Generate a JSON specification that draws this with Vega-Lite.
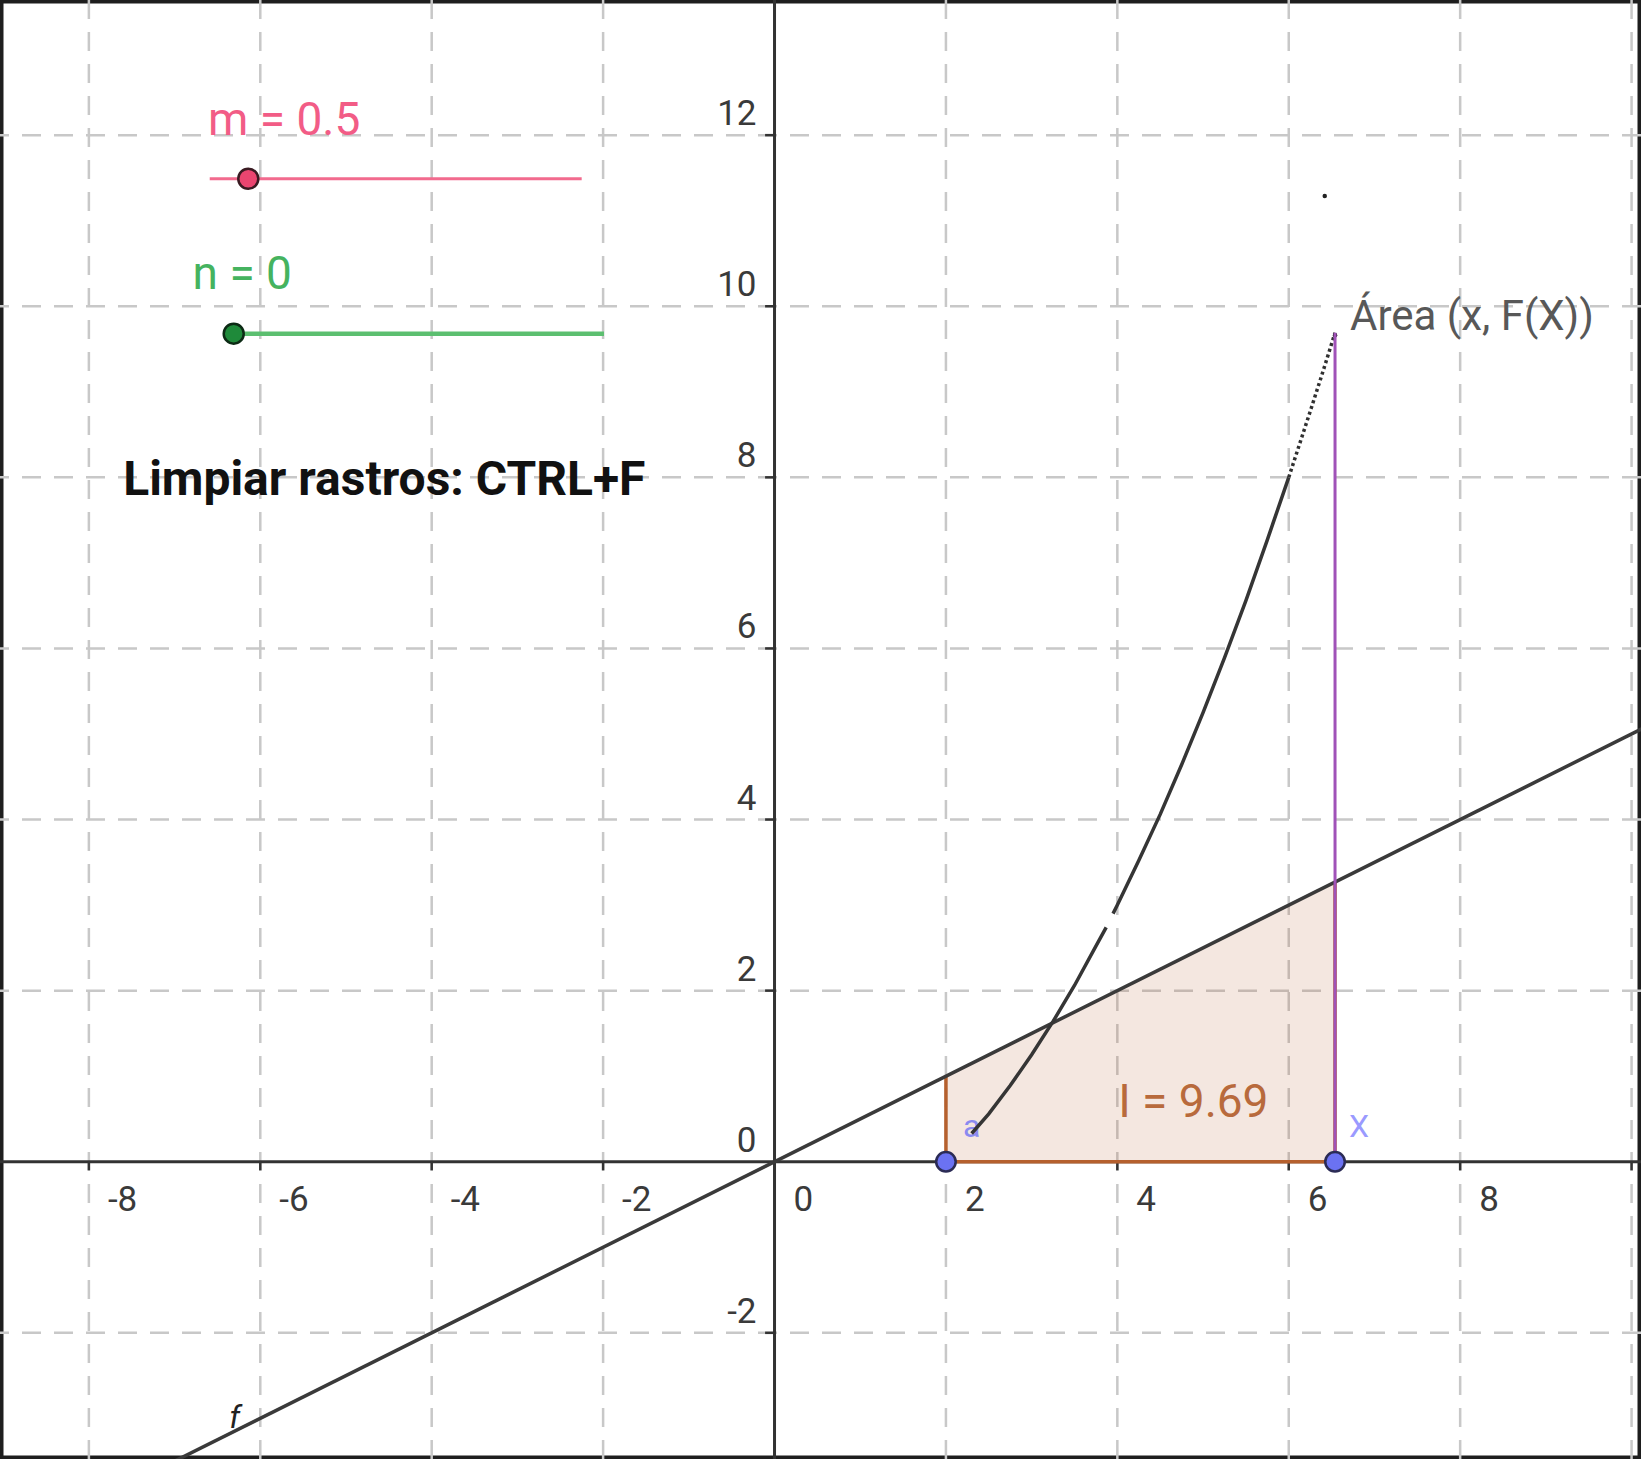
{
  "$schema": "https://vega.github.io/schema/vega-lite/v6.json",
  "width": 1641,
  "height": 1459,
  "autosize": {"type": "none"},
  "padding": 0,
  "background": "white",
  "config": {
    "view": {"stroke": "#1e1e1e", "strokeWidth": 7},
    "axis": {"disable": true},
    "text": {"font": "Roboto"}
  },
  "layer": [
    {
      "data": {"values": [{"v": -2}, {"v": 2}, {"v": 4}, {"v": 6}, {"v": 8}, {"v": 10}, {"v": 12}]},
      "mark": {"type": "rule", "color": "#c8c8c8", "strokeWidth": 2.5, "strokeDash": [19, 13]},
      "encoding": {
        "y": {"field": "v", "type": "quantitative", "scale": {"domain": [-3.475, 13.58], "nice": false, "zero": false}}
      }
    },
    {
      "data": {"values": [{"v": -8}, {"v": -6}, {"v": -4}, {"v": -2}, {"v": 2}, {"v": 4}, {"v": 6}, {"v": 8}, {"v": 10}]},
      "mark": {"type": "rule", "color": "#c8c8c8", "strokeWidth": 2.5, "strokeDash": [19, 13]},
      "encoding": {
        "x": {"field": "v", "type": "quantitative", "scale": {"domain": [-9.037, 10.11], "nice": false, "zero": false}}
      }
    },
    {
      "data": {"values": [{"v": 0}]},
      "mark": {"type": "rule", "color": "#333333", "strokeWidth": 3},
      "encoding": {"y": {"field": "v", "type": "quantitative"}}
    },
    {
      "data": {"values": [{"v": 0}]},
      "mark": {"type": "rule", "color": "#333333", "strokeWidth": 3},
      "encoding": {"x": {"field": "v", "type": "quantitative"}}
    },
    {
      "data": {"values": [{"v": -8}, {"v": -6}, {"v": -4}, {"v": -2}, {"v": 2}, {"v": 4}, {"v": 6}, {"v": 8}, {"v": 10}]},
      "mark": {"type": "rule", "color": "#333333", "strokeWidth": 2.5},
      "encoding": {
        "x": {"field": "v", "type": "quantitative"},
        "y": {"datum": 0},
        "y2": {"datum": -0.1}
      }
    },
    {
      "data": {"values": [{"v": -2}, {"v": 2}, {"v": 4}, {"v": 6}, {"v": 8}, {"v": 10}, {"v": 12}]},
      "mark": {"type": "rule", "color": "#333333", "strokeWidth": 2.5},
      "encoding": {
        "y": {"field": "v", "type": "quantitative"},
        "x": {"datum": 0},
        "x2": {"datum": -0.11}
      }
    },
    {
      "data": {"values": [{"v": -8}, {"v": -6}, {"v": -4}, {"v": -2}, {"v": 0}, {"v": 2}, {"v": 4}, {"v": 6}, {"v": 8}]},
      "mark": {"type": "text", "align": "left", "baseline": "middle", "dx": 19, "dy": 38, "fontSize": 35, "color": "#3a3a3a"},
      "encoding": {
        "x": {"field": "v", "type": "quantitative"},
        "y": {"datum": 0},
        "text": {"field": "v", "type": "nominal"}
      }
    },
    {
      "data": {"values": [{"v": -2}, {"v": 0}, {"v": 2}, {"v": 4}, {"v": 6}, {"v": 8}, {"v": 10}, {"v": 12}]},
      "mark": {"type": "text", "align": "right", "baseline": "middle", "dx": -18, "dy": -21, "fontSize": 35, "color": "#3a3a3a"},
      "encoding": {
        "y": {"field": "v", "type": "quantitative"},
        "x": {"datum": 0},
        "text": {"field": "v", "type": "nominal"}
      }
    },
    {
      "data": {"values": [{"x": 2, "y": 1}, {"x": 6.54, "y": 3.27}]},
      "mark": {"type": "area", "color": "#b5602e", "opacity": 0.15},
      "encoding": {
        "x": {"field": "x", "type": "quantitative"},
        "y": {"field": "y", "type": "quantitative"},
        "y2": {"datum": 0}
      }
    },
    {
      "data": {"values": [{"x": 2, "y": 1, "o": 1}, {"x": 2, "y": 0, "o": 2}, {"x": 6.54, "y": 0, "o": 3}, {"x": 6.54, "y": 3.27, "o": 4}]},
      "mark": {"type": "line", "color": "#b5602e", "strokeWidth": 3.5},
      "encoding": {
        "x": {"field": "x", "type": "quantitative"},
        "y": {"field": "y", "type": "quantitative"},
        "order": {"field": "o", "type": "quantitative"}
      }
    },
    {
      "data": {"values": [{"x": -9.5, "y": -4.75}, {"x": 10.5, "y": 5.25}]},
      "mark": {"type": "line", "color": "#3a3a3a", "strokeWidth": 3.5, "clip": true},
      "encoding": {
        "x": {"field": "x", "type": "quantitative"},
        "y": {"field": "y", "type": "quantitative"}
      }
    },
    {
      "data": {"values": [{"x": 2.3, "y": 0.41, "t": "a"}]},
      "mark": {"type": "text", "align": "center", "baseline": "middle", "fontSize": 32, "color": "#8a8af0"},
      "encoding": {
        "x": {"field": "x", "type": "quantitative"},
        "y": {"field": "y", "type": "quantitative"},
        "text": {"field": "t"}
      }
    },
    {
      "data": {"values": [
        {"x": 2.3, "y": 0.33, "s": 1}, {"x": 2.5, "y": 0.56, "s": 1}, {"x": 2.75, "y": 0.89, "s": 1},
        {"x": 3.0, "y": 1.25, "s": 1}, {"x": 3.25, "y": 1.64, "s": 1}, {"x": 3.5, "y": 2.06, "s": 1},
        {"x": 3.75, "y": 2.52, "s": 1}, {"x": 3.87, "y": 2.74, "s": 1},
        {"x": 3.95, "y": 2.9, "s": 2}, {"x": 4.0, "y": 3.0, "s": 2}, {"x": 4.25, "y": 3.52, "s": 2},
        {"x": 4.5, "y": 4.06, "s": 2}, {"x": 4.75, "y": 4.64, "s": 2}, {"x": 5.0, "y": 5.25, "s": 2},
        {"x": 5.25, "y": 5.89, "s": 2}, {"x": 5.5, "y": 6.56, "s": 2}, {"x": 5.75, "y": 7.27, "s": 2},
        {"x": 6.0, "y": 8.0, "s": 2}
      ]},
      "mark": {"type": "line", "color": "#353535", "strokeWidth": 3.5},
      "encoding": {
        "x": {"field": "x", "type": "quantitative"},
        "y": {"field": "y", "type": "quantitative"},
        "detail": {"field": "s", "type": "nominal"}
      }
    },
    {
      "data": {"values": [{"x": 6.0, "y": 8.0}, {"x": 6.25, "y": 8.77}, {"x": 6.4, "y": 9.24}, {"x": 6.54, "y": 9.69}]},
      "mark": {"type": "line", "color": "#303030", "strokeWidth": 3.5, "strokeDash": [3, 3]},
      "encoding": {
        "x": {"field": "x", "type": "quantitative"},
        "y": {"field": "y", "type": "quantitative"}
      }
    },
    {
      "data": {"values": [{"x": 6.42, "y": 11.29}, {"x": 6.54, "y": 9.66}]},
      "mark": {"type": "point", "filled": true, "color": "#222222", "size": 20, "opacity": 1},
      "encoding": {
        "x": {"field": "x", "type": "quantitative"},
        "y": {"field": "y", "type": "quantitative"}
      }
    },
    {
      "data": {"values": [{"x": 6.54, "y0": 0, "y1": 9.69}]},
      "mark": {"type": "rule", "color": "#a052b8", "strokeWidth": 3},
      "encoding": {
        "x": {"field": "x", "type": "quantitative"},
        "y": {"field": "y0", "type": "quantitative"},
        "y2": {"field": "y1"}
      }
    },
    {
      "data": {"values": [{"x0": -6.59, "x1": -2.25, "y": 11.49}]},
      "mark": {"type": "rule", "color": "#f26a8e", "strokeWidth": 3},
      "encoding": {
        "x": {"field": "x0", "type": "quantitative"},
        "x2": {"field": "x1"},
        "y": {"field": "y", "type": "quantitative"}
      }
    },
    {
      "data": {"values": [{"x0": -6.31, "x1": -1.99, "y": 9.68}]},
      "mark": {"type": "rule", "color": "#5cbf70", "strokeWidth": 4.5},
      "encoding": {
        "x": {"field": "x0", "type": "quantitative"},
        "x2": {"field": "x1"},
        "y": {"field": "y", "type": "quantitative"}
      }
    },
    {
      "data": {"values": [{"x": -6.14, "y": 11.49}]},
      "mark": {"type": "point", "filled": true, "fill": "#ea4570", "stroke": "#3a1a22", "strokeWidth": 2.5, "size": 400, "opacity": 1, "shape": "circle"},
      "encoding": {
        "x": {"field": "x", "type": "quantitative"},
        "y": {"field": "y", "type": "quantitative"}
      }
    },
    {
      "data": {"values": [{"x": -6.31, "y": 9.68}]},
      "mark": {"type": "point", "filled": true, "fill": "#1f8a3a", "stroke": "#0c2a14", "strokeWidth": 2.5, "size": 400, "opacity": 1, "shape": "circle"},
      "encoding": {
        "x": {"field": "x", "type": "quantitative"},
        "y": {"field": "y", "type": "quantitative"}
      }
    },
    {
      "data": {"values": [{"x": 2, "y": 0}, {"x": 6.54, "y": 0}]},
      "mark": {"type": "point", "filled": true, "fill": "#6b72f2", "stroke": "#2b2b55", "strokeWidth": 2.5, "size": 380, "opacity": 1, "shape": "circle"},
      "encoding": {
        "x": {"field": "x", "type": "quantitative"},
        "y": {"field": "y", "type": "quantitative"}
      }
    },
    {
      "data": {"values": [{"x": -6.61, "y": 12.17, "t": "m = 0.5"}]},
      "mark": {"type": "text", "align": "left", "baseline": "middle", "fontSize": 46, "color": "#f25c86"},
      "encoding": {
        "x": {"field": "x", "type": "quantitative"},
        "y": {"field": "y", "type": "quantitative"},
        "text": {"field": "t"}
      }
    },
    {
      "data": {"values": [{"x": -6.79, "y": 10.36, "t": "n = 0"}]},
      "mark": {"type": "text", "align": "left", "baseline": "middle", "fontSize": 46, "color": "#45b35f"},
      "encoding": {
        "x": {"field": "x", "type": "quantitative"},
        "y": {"field": "y", "type": "quantitative"},
        "text": {"field": "t"}
      }
    },
    {
      "data": {"values": [{"x": -7.6, "y": 7.96, "t": "Limpiar rastros: CTRL+F"}]},
      "mark": {"type": "text", "align": "left", "baseline": "middle", "fontSize": 48, "fontWeight": "bold", "color": "#111111"},
      "encoding": {
        "x": {"field": "x", "type": "quantitative"},
        "y": {"field": "y", "type": "quantitative"},
        "text": {"field": "t"}
      }
    },
    {
      "data": {"values": [{"x": 6.715, "y": 9.88, "t": "Área (x, F(X))"}]},
      "mark": {"type": "text", "align": "left", "baseline": "middle", "fontSize": 42, "color": "#585858"},
      "encoding": {
        "x": {"field": "x", "type": "quantitative"},
        "y": {"field": "y", "type": "quantitative"},
        "text": {"field": "t"}
      }
    },
    {
      "data": {"values": [{"x": 4.01, "y": 0.69, "t": "I = 9.69"}]},
      "mark": {"type": "text", "align": "left", "baseline": "middle", "fontSize": 46, "color": "#b86a3c"},
      "encoding": {
        "x": {"field": "x", "type": "quantitative"},
        "y": {"field": "y", "type": "quantitative"},
        "text": {"field": "t"}
      }
    },
    {
      "data": {"values": [{"x": 6.82, "y": 0.41, "t": "X"}]},
      "mark": {"type": "text", "align": "center", "baseline": "middle", "fontSize": 32, "color": "#9a9aff"},
      "encoding": {
        "x": {"field": "x", "type": "quantitative"},
        "y": {"field": "y", "type": "quantitative"},
        "text": {"field": "t"}
      }
    },
    {
      "data": {"values": [{"x": -6.3, "y": -3.0, "t": "f"}]},
      "mark": {"type": "text", "align": "center", "baseline": "middle", "fontSize": 32, "fontStyle": "italic", "color": "#222222"},
      "encoding": {
        "x": {"field": "x", "type": "quantitative"},
        "y": {"field": "y", "type": "quantitative"},
        "text": {"field": "t"}
      }
    }
  ]
}
